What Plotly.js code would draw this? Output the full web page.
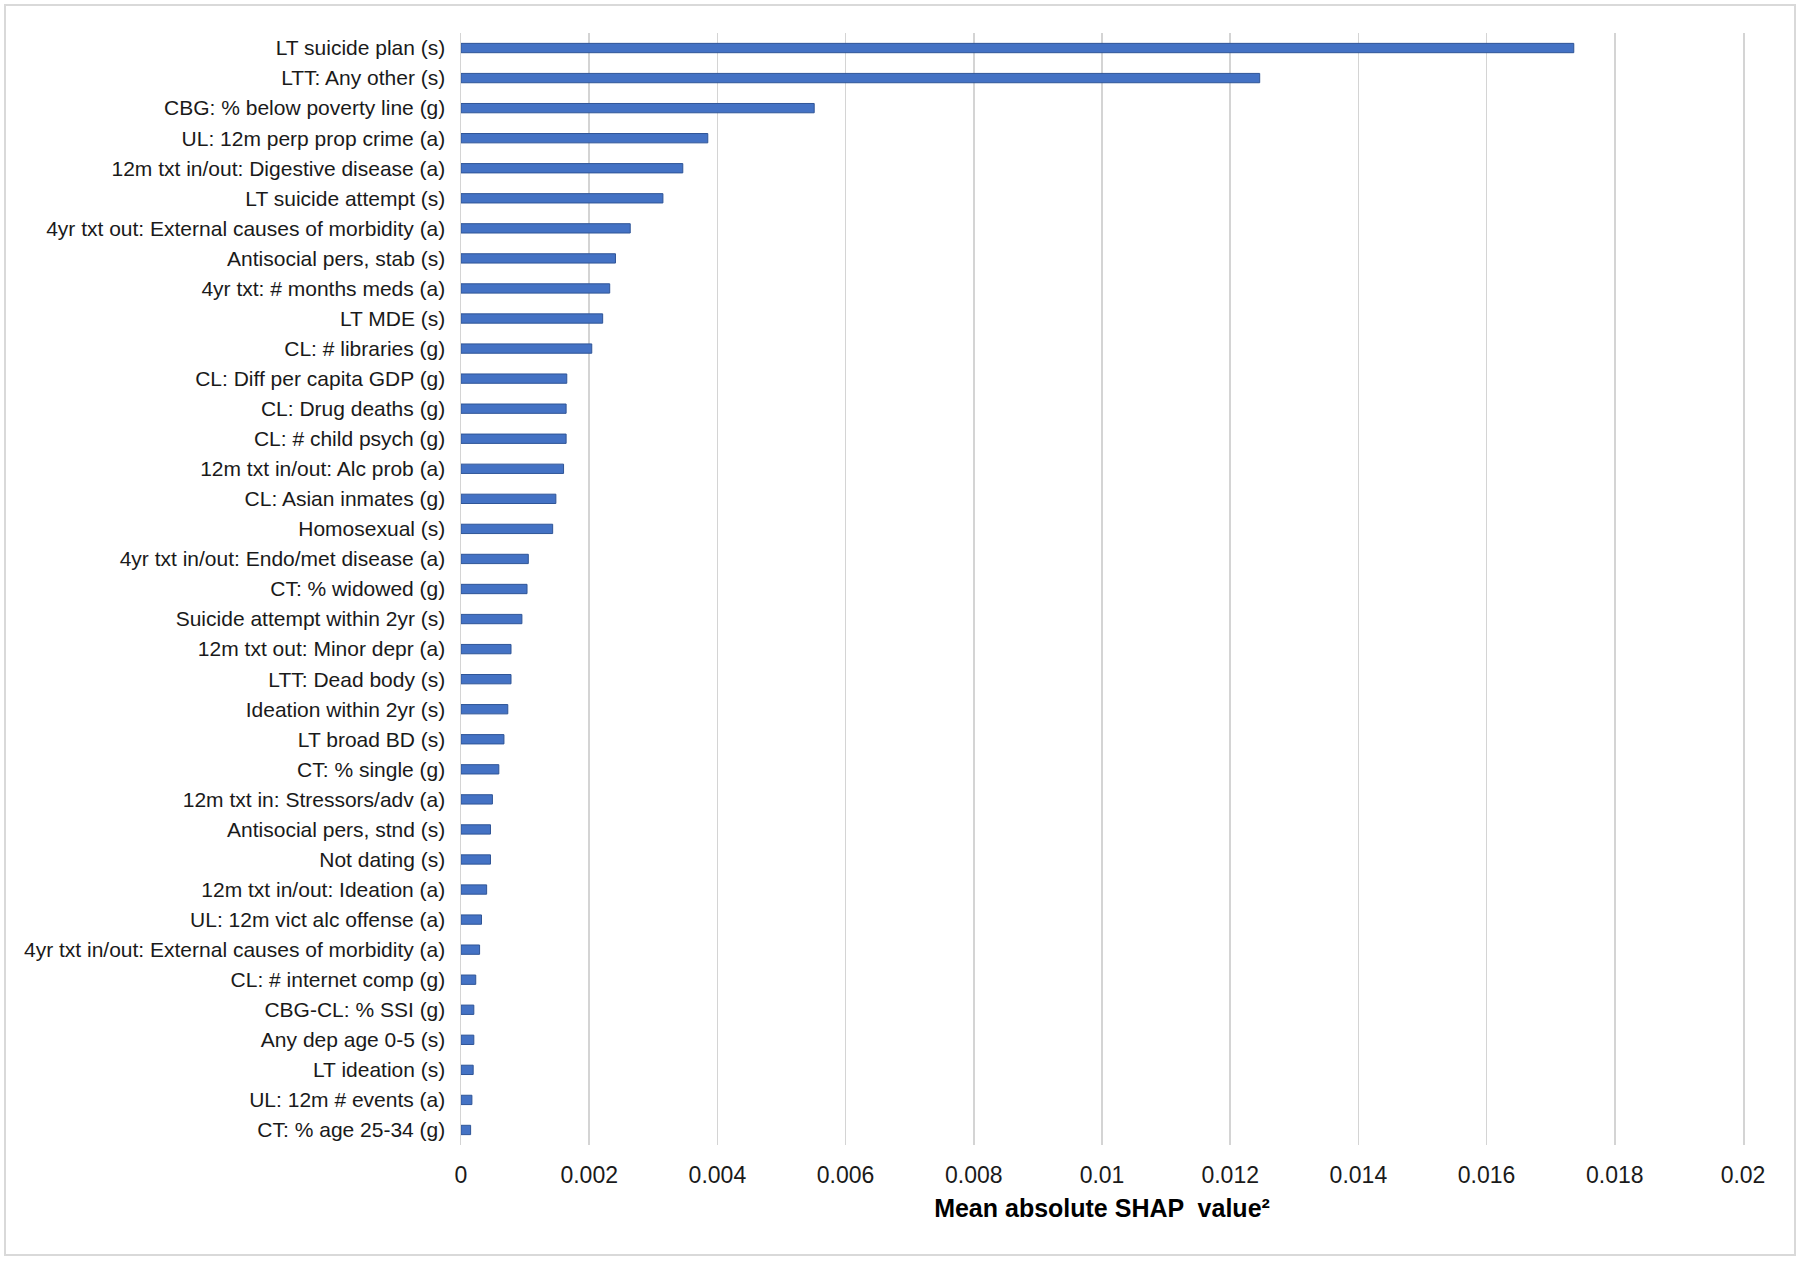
<!DOCTYPE html>
<html>
<head>
<meta charset="utf-8">
<script src="https://cdn.plot.ly/plotly-3.0.1.min.js"></script>
<style>
  html, body { margin: 0; padding: 0; background: #fff; }
  #wrap { position: relative; width: 1800px; height: 1261px; }
  #chart { position: absolute; left: 0; top: 0; width: 1800px; height: 1261px; }
  #frame { position: absolute; left: 4px; top: 4px; width: 1788px; height: 1248px;
           border: 2px solid #d9d9d9; pointer-events: none; }
</style>
</head>
<body>
<div id="wrap">
  <div id="chart"></div>
  <div id="frame"></div>
</div>
<script>
// Feature names, top to bottom
const features = [
  "LT suicide plan (s)",
  "LTT: Any other (s)",
  "CBG: % below poverty line (g)",
  "UL: 12m perp prop crime (a)",
  "12m txt in/out: Digestive disease (a)",
  "LT suicide attempt (s)",
  "4yr txt out: External causes of morbidity (a)",
  "Antisocial pers, stab (s)",
  "4yr txt: # months meds (a)",
  "LT MDE (s)",
  "CL: # libraries (g)",
  "CL: Diff per capita GDP (g)",
  "CL: Drug deaths (g)",
  "CL: # child psych (g)",
  "12m txt in/out: Alc prob (a)",
  "CL: Asian inmates (g)",
  "Homosexual (s)",
  "4yr txt in/out: Endo/met disease (a)",
  "CT: % widowed (g)",
  "Suicide attempt within 2yr (s)",
  "12m txt out: Minor depr (a)",
  "LTT: Dead body (s)",
  "Ideation within 2yr (s)",
  "LT broad BD (s)",
  "CT: % single (g)",
  "12m txt in: Stressors/adv (a)",
  "Antisocial pers, stnd (s)",
  "Not dating (s)",
  "12m txt in/out: Ideation (a)",
  "UL: 12m vict alc offense (a)",
  "4yr txt in/out: External causes of morbidity (a)",
  "CL: # internet comp (g)",
  "CBG-CL: % SSI (g)",
  "Any dep age 0-5 (s)",
  "LT ideation (s)",
  "UL: 12m # events (a)",
  "CT: % age 25-34 (g)"
];

// Mean absolute SHAP value (squared)
const shapValues = [
  0.01736, 0.01246, 0.00551, 0.00385, 0.00346, 0.00315, 0.00264, 0.00241,
  0.00232, 0.00221, 0.00204, 0.00165, 0.00164, 0.00164, 0.00160, 0.00148,
  0.00143, 0.00105, 0.00103, 0.00095, 0.00078, 0.00078, 0.00073, 0.00067,
  0.00059, 0.00049, 0.00046, 0.00046, 0.00040, 0.00032, 0.00029, 0.00023,
  0.00020, 0.00020, 0.00019, 0.00017, 0.00015
];

// X-axis ticks
const xTickVals = [0, 0.002, 0.004, 0.006, 0.008, 0.01, 0.012, 0.014, 0.016, 0.018, 0.02];
const xTickText = ["0", "0.002", "0.004", "0.006", "0.008", "0.01", "0.012", "0.014", "0.016", "0.018", "0.02"];

const xTitle = "Mean absolute SHAP  value²";

const trace = {
  type: "bar",
  orientation: "h",
  x: shapValues,
  y: features,
  marker: { color: "#4472C4", line: { color: "#2F5597", width: 1 } },
  hoverinfo: "x+y"
};

const layout = {
  width: 1800,
  height: 1261,
  paper_bgcolor: "#ffffff",
  plot_bgcolor: "#ffffff",
  margin: { l: 461, r: 57, t: 33, b: 116, pad: 0 },
  bargap: 0.69,
  showlegend: false,
  font: { family: "Liberation Sans, Arial, sans-serif", color: "#1a1a1a" },
  xaxis: {
    range: [0, 0.02],
    tickvals: xTickVals,
    ticktext: xTickText,
    showgrid: true,
    gridcolor: "#d4d4d4",
    gridwidth: 1.5,
    zeroline: false,
    showline: false,
    ticks: "",
    ticklabelstandoff: 14,
    tickfont: { size: 23, color: "#1a1a1a" },
    automargin: false,
    title: {
      text: xTitle,
      font: { size: 25, color: "#000000", family: "Liberation Sans, Arial, sans-serif", weight: "bold" },
      standoff: 12
    },
    fixedrange: true
  },
  yaxis: {
    type: "category",
    autorange: "reversed",
    showgrid: false,
    zeroline: false,
    showline: true,
    mirror: true,
    linecolor: "#d4d4d4",
    linewidth: 1.5,
    ticks: "",
    ticklabelstandoff: 10,
    tickfont: { size: 21, color: "#1a1a1a" },
    automargin: false,
    fixedrange: true
  }
};

Plotly.newPlot("chart", [trace], layout, { displayModeBar: false, staticPlot: true });
</script>
</body>
</html>
